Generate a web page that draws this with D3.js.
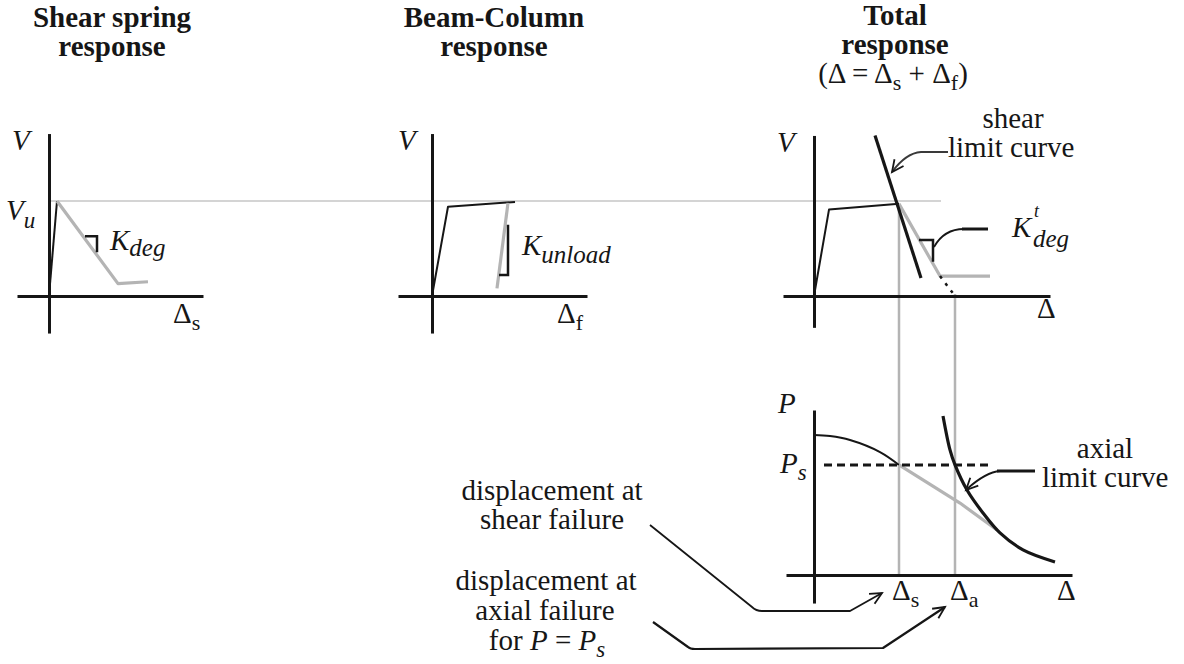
<!DOCTYPE html>
<html>
<head>
<meta charset="utf-8">
<script src="https://cdn.jsdelivr.net/npm/d3@7"></script>
<style>
  body { margin: 0; background: #fff; }
  svg { display: block; }
  svg text { font-family: "Liberation Serif", "Tinos", "DejaVu Serif", "Noto Serif", "Times New Roman", Times, serif; }
</style>
</head>
<body>
<svg id="fig" width="1184" height="664"></svg>
<script>
// ---- Response curves (displacement in model units, V normalised by Vu, P normalised) ----
const shearSpringElastic = [[0, 0], [0.8, 1.0]];
const shearSpringDegrade = [[0.8, 1.0], [6.9, 0.13], [9.9, 0.15]];
const beamColumnLoad     = [[0, 0], [1.6, 0.94], [8.3, 0.99]];
const beamColumnUnload   = [[7.6, 0.98], [6.5, 0.08]];
const totalLoad          = [[0, 0], [1.5, 0.91], [8.5, 0.97]];
const shearLimitCurve    = [[6.1, 1.69], [10.7, 0.19]];
const totalDegrade       = [[8.5, 0.97], [12.6, 0.21], [17.6, 0.21]];
const totalExtension     = [[12.6, 0.21], [14.1, 0.0]];
const axialLoad          = [[0, 0.848], [1.6, 0.842], [3.6, 0.818], [6.6, 0.745], [8.5, 0.667]];
const axialDegrade       = [[8.5, 0.667], [14.6, 0.436], [18.3, 0.273]];
const axialLimitCurve    = [[12.9, 0.964], [13.6, 0.758], [14.1, 0.667], [15.3, 0.515],
                            [16.9, 0.376], [18.6, 0.255], [20.9, 0.152], [24.1, 0.079]];

// key levels
const Vu = 1.0;
const Ps = 0.667;
const deltaS = 8.5;   // displacement at shear failure
const deltaA = 14.1;  // displacement at axial failure for P = Ps

// stiffness markers: [x of corner, V of corner, leg end x, leg end V]
const kDegMarker    = [4.8, 0.63, 3.6, 0.46];
const kUnloadMarker = [7.6, 0.22, 6.7, 0.75];
const kTotalMarker  = [11.9, 0.59, 10.5, 0.36];

// axis extents per panel: [xmin, xmax], [ymin, ymax]
const shearAxes = [[-3.2, 15.4], [-0.39, 1.71]];
const beamAxes  = [[-3.4, 15.5], [-0.39, 1.71]];
const totalAxes = [[-3.1, 23.6], [-0.33, 1.69]];
const axialAxes = [[-2.8, 25.8], [-0.17, 1.0]];

// ---- Scales ----
const yV      = d3.scaleLinear().domain([0, 1]).range([296, 201]);
const xShear  = d3.scaleLinear().domain([0, 1]).range([49, 59]);
const xBeam   = d3.scaleLinear().domain([0, 1]).range([432, 442]);
const xTotal  = d3.scaleLinear().domain([0, 1]).range([814, 824]);
const yP      = d3.scaleLinear().domain([0, 1]).range([575, 410]);

const svg = d3.select('#fig');
const INK = '#161616';
const GREY = '#b4b4b4';

function plot(data, x, y, o) {
  svg.append('path').datum(data)
    .attr('d', d3.line().x(d => x(d[0])).y(d => y(d[1])).curve(o.curve || d3.curveLinear))
    .attr('fill', 'none')
    .attr('stroke', o.color)
    .attr('stroke-width', o.width)
    .attr('stroke-dasharray', o.dash || null)
    .attr('stroke-linejoin', 'round')
    .attr('stroke-linecap', o.cap || 'butt');
}

function axes(x, y, ext) {
  const [xe, ye] = ext;
  const xs = d3.scaleLinear().domain(xe).range(xe.map(x));
  const ys = d3.scaleLinear().domain(ye).range(ye.map(y));
  svg.append('g').attr('transform', `translate(0,${y(0)})`)
    .call(d3.axisBottom(xs).tickValues([]).tickSizeOuter(0))
    .call(g => g.select('.domain').attr('stroke', INK).attr('stroke-width', 3));
  svg.append('g').attr('transform', `translate(${x(0)},0)`)
    .call(d3.axisLeft(ys).tickValues([]).tickSizeOuter(0))
    .call(g => g.select('.domain').attr('stroke', INK).attr('stroke-width', 3));
}

function marker(m, x, y) {
  const [cx, cy, hx, vy] = m;
  svg.append('path')
    .attr('d', `M${x(hx)},${y(cy)} L${x(cx)},${y(cy)} L${x(cx)},${y(vy)}`)
    .attr('fill', 'none').attr('stroke', INK).attr('stroke-width', 2.5);
}

function rich(x, y, parts, anchor) {
  const t = svg.append('text')
    .attr('x', x).attr('y', y)
    .attr('text-anchor', anchor || 'start')
    .attr('font-size', 29).attr('fill', INK);
  let cur = 0;
  parts.forEach(p => {
    const s = p.shift || 0;
    t.append('tspan')
      .attr('dy', s - cur)
      .attr('font-size', p.size || 29)
      .attr('font-style', p.italic ? 'italic' : 'normal')
      .attr('font-weight', p.bold ? 'bold' : 'normal')
      .text(p.t);
    cur = s;
  });
  return t;
}

function arrowHead(x1, y1, x2, y2, len) {
  const a = Math.atan2(y2 - y1, x2 - x1);
  const L = len || 12, w = 0.45;
  svg.append('path')
    .attr('d', `M${x2 - L * Math.cos(a - w)},${y2 - L * Math.sin(a - w)} L${x2},${y2} L${x2 - L * Math.cos(a + w)},${y2 - L * Math.sin(a + w)}`)
    .attr('fill', 'none').attr('stroke', INK).attr('stroke-width', 1.8)
    .attr('stroke-linejoin', 'miter');
}

function leader(d, color, width) {
  svg.append('path').attr('d', d).attr('fill', 'none')
    .attr('stroke', color || INK).attr('stroke-width', width || 1.8)
    .attr('stroke-linejoin', 'round');
}

// ---- Reference line at Vu across the three V panels ----
svg.append('line')
  .attr('x1', xShear(0)).attr('x2', xTotal(12.7))
  .attr('y1', yV(Vu)).attr('y2', yV(Vu))
  .attr('stroke', '#a9a9a9').attr('stroke-width', 1.2);

// ---- Vertical projections of the failure displacements ----
svg.append('line')
  .attr('x1', xTotal(deltaS)).attr('x2', xTotal(deltaS))
  .attr('y1', yV(0.97)).attr('y2', yP(0))
  .attr('stroke', GREY).attr('stroke-width', 2.5);
svg.append('line')
  .attr('x1', xTotal(deltaA)).attr('x2', xTotal(deltaA))
  .attr('y1', yV(0.02)).attr('y2', yP(0))
  .attr('stroke', GREY).attr('stroke-width', 2.5);

// ---- Shear spring panel ----
axes(xShear, yV, shearAxes);
plot(shearSpringElastic, xShear, yV, { color: INK, width: 2 });
plot(shearSpringDegrade, xShear, yV, { color: GREY, width: 3.2 });
marker(kDegMarker, xShear, yV);

// ---- Beam-column panel ----
axes(xBeam, yV, beamAxes);
plot(beamColumnLoad, xBeam, yV, { color: INK, width: 2 });
plot(beamColumnUnload, xBeam, yV, { color: GREY, width: 3.2 });
marker(kUnloadMarker, xBeam, yV);

// ---- Total response panel ----
axes(xTotal, yV, totalAxes);
plot(totalLoad, xTotal, yV, { color: INK, width: 2 });
plot(totalDegrade, xTotal, yV, { color: GREY, width: 3.2 });
plot(totalExtension, xTotal, yV, { color: INK, width: 2.5, dash: '3,6' });
plot(shearLimitCurve, xTotal, yV, { color: INK, width: 3.2 });
marker(kTotalMarker, xTotal, yV);

// ---- Axial panel ----
axes(xTotal, yP, axialAxes);
plot(axialLoad, xTotal, yP, { color: INK, width: 2, curve: d3.curveCatmullRom });
plot(axialDegrade, xTotal, yP, { color: GREY, width: 3.2 });
plot([[1.0, Ps], [17.9, Ps]], xTotal, yP, { color: INK, width: 3, dash: '8,5' });
plot(axialLimitCurve, xTotal, yP, { color: INK, width: 3.2, curve: d3.curveCatmullRom });

// ---- Titles ----
rich(112, 27, [{ t: 'Shear spring', bold: true }], 'middle');
rich(112, 56, [{ t: 'response', bold: true }], 'middle');
rich(494, 27, [{ t: 'Beam-Column', bold: true }], 'middle');
rich(494, 56, [{ t: 'response', bold: true }], 'middle');
rich(895, 25, [{ t: 'Total', bold: true }], 'middle');
rich(895, 54, [{ t: 'response', bold: true }], 'middle');
rich(893, 83, [{ t: '(\u0394 = \u0394' }, { t: 's', size: 22, shift: 7 }, { t: ' + \u0394' }, { t: 'f', size: 22, shift: 7 }, { t: ')' }], 'middle');

// ---- Axis labels ----
rich(12, 150, [{ t: 'V', italic: true }]);
rich(398, 150, [{ t: 'V', italic: true }]);
rich(777, 152, [{ t: 'V', italic: true }]);
rich(6, 220, [{ t: 'V', italic: true }, { t: 'u', italic: true, size: 23, shift: 8 }]);
rich(173, 323, [{ t: '\u0394' }, { t: 's', size: 22, shift: 7 }]);
rich(557, 323, [{ t: '\u0394' }, { t: 'f', size: 22, shift: 7 }]);
rich(1037, 318, [{ t: '\u0394' }]);

// stiffness labels
rich(110, 250, [{ t: 'K', italic: true }, { t: 'deg', italic: true, size: 25, shift: 6 }]);
rich(522, 255, [{ t: 'K', italic: true }, { t: 'unload', italic: true, size: 25, shift: 8 }]);
rich(1012, 237, [{ t: 'K', italic: true }]);
rich(1034, 217, [{ t: 't', italic: true, size: 18 }]);
rich(1033, 247, [{ t: 'deg', italic: true, size: 25 }]);

// limit curve annotations
rich(1013, 128, [{ t: 'shear' }], 'middle');
rich(948, 157, [{ t: 'limit curve' }]);
leader('M948,152 L921,152 Q906,153 892,172', '#3a3a3a', 1.8);
arrowHead(901, 160, 892, 172, 13);

leader('M934,247 Q944,229 964,229', INK, 1.8);
leader('M962,229 L988,229', INK, 3);

rich(1105, 458, [{ t: 'axial' }], 'middle');
rich(1042, 487, [{ t: 'limit curve' }]);
leader('M1000,471 Q986,472 967,489', INK, 1.8);
leader('M997,471 L1035,471', INK, 3);
arrowHead(977, 479, 966, 490, 13);

// axial panel labels
rich(778, 413, [{ t: 'P', italic: true }]);
rich(780, 473, [{ t: 'P', italic: true }, { t: 's', italic: true, size: 23, shift: 7 }]);
rich(892, 600, [{ t: '\u0394' }, { t: 's', size: 22, shift: 7 }]);
rich(950, 600, [{ t: '\u0394' }, { t: 'a', size: 22, shift: 7 }]);
rich(1057, 600, [{ t: '\u0394' }]);

// failure displacement callouts
rich(552, 500, [{ t: 'displacement at' }], 'middle');
rich(552, 529, [{ t: 'shear failure' }], 'middle');
rich(546, 590, [{ t: 'displacement at' }], 'middle');
rich(545, 620, [{ t: 'axial failure' }], 'middle');
rich(547, 650, [{ t: 'for ' }, { t: 'P', italic: true }, { t: ' = ' }, { t: 'P', italic: true }, { t: 's', italic: true, size: 23, shift: 7 }], 'middle');

leader('M650,525 L752,607 Q756,611 762,611 L850,611 L882,593', INK, 1.8);
arrowHead(850, 611, 882, 593, 13);
leader('M653,622 L688,647 Q690,649 695,649 L883,648 L945,607', INK, 2.2);
arrowHead(883, 648, 945, 607, 13);
</script>
</body>
</html>
